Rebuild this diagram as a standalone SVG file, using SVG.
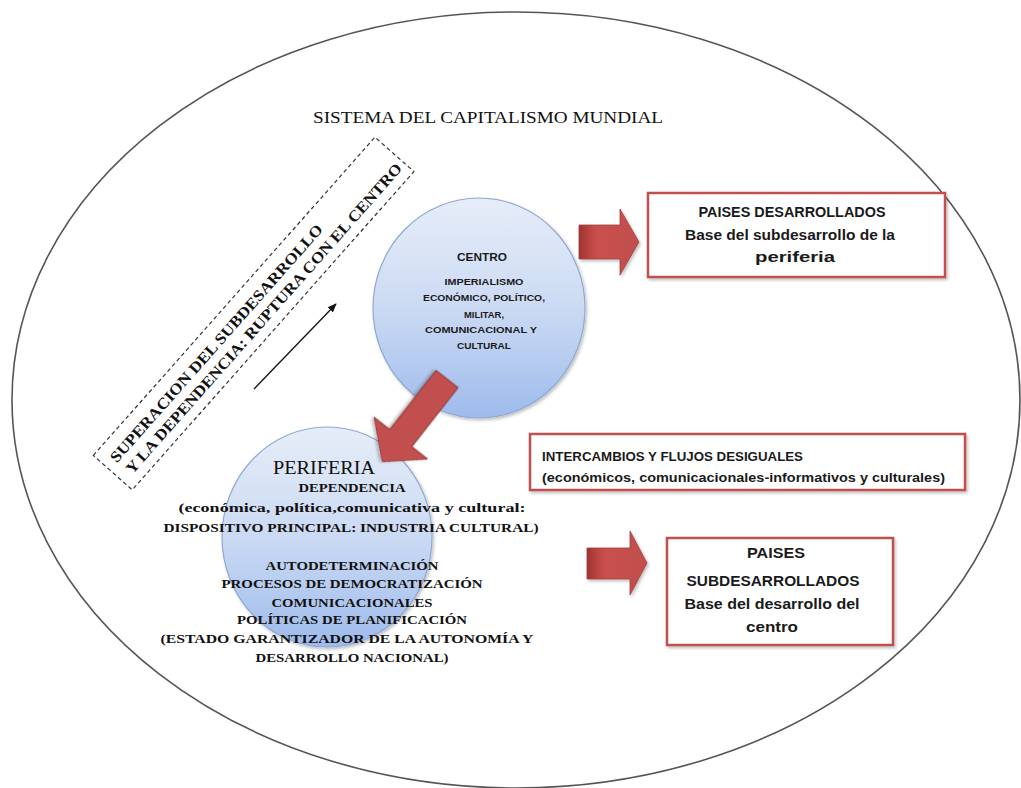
<svg xmlns="http://www.w3.org/2000/svg" width="1021" height="788" viewBox="0 0 1021 788">
<style>
.sans{font-family:"Liberation Sans","Noto Sans",Arial,sans-serif;font-weight:bold;fill:#1a1a1a;}
.serif{font-family:"Liberation Serif","Times New Roman",serif;fill:#111;}
.b{font-weight:bold;}
.redbox{fill:#fff;stroke:#c0504d;stroke-width:2.5;}
.circ{fill:url(#blue);stroke:#8ea9d4;stroke-width:1.2;}
.rarrow{fill:url(#redh);stroke:#a13f3c;stroke-width:0.8;}
</style>
<defs>
<linearGradient id="blue" x1="0" y1="0" x2="0" y2="1">
<stop offset="0" stop-color="#e6edf8"/>
<stop offset="0.5" stop-color="#cbdaf3"/>
<stop offset="1" stop-color="#9ebbec"/>
</linearGradient>
<linearGradient id="redh" x1="0" y1="0" x2="1" y2="0">
<stop offset="0" stop-color="#9c3431"/>
<stop offset="0.15" stop-color="#b8423f"/>
<stop offset="0.3" stop-color="#c9504d"/>
<stop offset="1" stop-color="#c0504d"/>
</linearGradient>
<filter id="sh" x="-10%" y="-10%" width="130%" height="130%">
<feDropShadow dx="1.5" dy="2" stdDeviation="1.5" flood-color="#000" flood-opacity="0.25"/>
</filter>
<marker id="ah" viewBox="0 0 10 10" refX="9" refY="5" markerWidth="7" markerHeight="7" orient="auto">
<path d="M0,1 L10,5 L0,9 z" fill="#111"/>
</marker>
</defs>
<rect width="1021" height="788" fill="#fff"/>

<g id="sistema">
<ellipse cx="516" cy="400" rx="504" ry="388" fill="none" stroke="#555" stroke-width="1.6"/>
<text class="serif" x="488" y="123" text-anchor="middle" font-size="17" textLength="350" lengthAdjust="spacingAndGlyphs">SISTEMA DEL CAPITALISMO MUNDIAL</text>
</g>

<g id="superacion" transform="translate(253.6,313.5) rotate(-48.5)">
<rect x="-212.5" y="-26" width="425" height="52" fill="none" stroke="#333" stroke-width="1.2" stroke-dasharray="4,3"/>
<text class="serif b" x="-203" y="-3" font-size="15.5" textLength="312" lengthAdjust="spacingAndGlyphs">SUPERACION DEL SUBDESARROLLO</text>
<text class="serif b" x="-201" y="16" font-size="15.5" textLength="408" lengthAdjust="spacingAndGlyphs">Y LA DEPENDENCIA: RUPTURA CON EL CENTRO</text>
</g>

<g id="centro">
<ellipse class="circ" cx="479" cy="308" rx="106" ry="110" filter="url(#sh)"/>
<text class="sans" x="482" y="261" text-anchor="middle" font-size="11" textLength="50" lengthAdjust="spacingAndGlyphs">CENTRO</text>
<text class="sans" x="484" y="285" text-anchor="middle" font-size="9.5" textLength="79" lengthAdjust="spacingAndGlyphs">IMPERIALISMO</text>
<text class="sans" x="484" y="301" text-anchor="middle" font-size="9.5" textLength="122" lengthAdjust="spacingAndGlyphs">ECONÓMICO, POLÍTICO,</text>
<text class="sans" x="484" y="317.5" text-anchor="middle" font-size="9.5" textLength="40" lengthAdjust="spacingAndGlyphs">MILITAR,</text>
<text class="sans" x="481" y="333" text-anchor="middle" font-size="9.5" textLength="112" lengthAdjust="spacingAndGlyphs">COMUNICACIONAL Y</text>
<text class="sans" x="484" y="349" text-anchor="middle" font-size="9.5" textLength="54" lengthAdjust="spacingAndGlyphs">CULTURAL</text>
</g>

<g id="periferia">
<ellipse class="circ" cx="327" cy="537" rx="105" ry="110" filter="url(#sh)"/>
</g>

<g id="connectors">
<path d="M0,-14 L75,-14 L75,-34 L105,0 L75,34 L75,14 L0,14 Z" transform="translate(447,379) rotate(128)" fill="#c0504d" stroke="#8f3533" stroke-width="1" filter="url(#sh)"/>
<path class="rarrow" d="M579,225 L620,225 L620,209 L639,242 L620,275 L620,259 L579,259 Z" filter="url(#sh)"/>
<path class="rarrow" d="M587,548 L630,548 L630,531 L647,563 L630,595 L630,579 L587,579 Z" filter="url(#sh)"/>
<line x1="254" y1="389" x2="336" y2="304" stroke="#111" stroke-width="1.3" marker-end="url(#ah)"/>
</g>

<g id="periferia-text">
<text class="serif" x="324" y="474" text-anchor="middle" font-size="18" textLength="102" lengthAdjust="spacingAndGlyphs">PERIFERIA</text>
<text class="serif b" x="352" y="492" text-anchor="middle" font-size="13" textLength="107" lengthAdjust="spacingAndGlyphs">DEPENDENCIA</text>
<text class="serif b" x="352" y="512" text-anchor="middle" font-size="13.5" textLength="347" lengthAdjust="spacingAndGlyphs">(económica, política,comunicativa  y cultural:</text>
<text class="serif b" x="351" y="532" text-anchor="middle" font-size="13" textLength="375" lengthAdjust="spacingAndGlyphs">DISPOSITIVO PRINCIPAL: INDUSTRIA CULTURAL)</text>
<text class="serif b" x="352" y="570" text-anchor="middle" font-size="13" textLength="173" lengthAdjust="spacingAndGlyphs">AUTODETERMINACIÓN</text>
<text class="serif b" x="352" y="588" text-anchor="middle" font-size="13" textLength="261" lengthAdjust="spacingAndGlyphs">PROCESOS DE DEMOCRATIZACIÓN</text>
<text class="serif b" x="352" y="607" text-anchor="middle" font-size="13" textLength="161" lengthAdjust="spacingAndGlyphs">COMUNICACIONALES</text>
<text class="serif b" x="352" y="624" text-anchor="middle" font-size="13" textLength="230" lengthAdjust="spacingAndGlyphs">POLÍTICAS DE PLANIFICACIÓN</text>
<text class="serif b" x="347" y="643" text-anchor="middle" font-size="13" textLength="373" lengthAdjust="spacingAndGlyphs">(ESTADO GARANTIZADOR DE LA AUTONOMÍA Y</text>
<text class="serif b" x="352" y="662" text-anchor="middle" font-size="13" textLength="193" lengthAdjust="spacingAndGlyphs">DESARROLLO NACIONAL)</text>
</g>

<g id="desarrollados">
<rect class="redbox" x="648" y="193" width="297" height="84" filter="url(#sh)"/>
<text class="sans" x="792" y="217" text-anchor="middle" font-size="14" textLength="187" lengthAdjust="spacingAndGlyphs">PAISES DESARROLLADOS</text>
<text class="sans" x="790" y="240" text-anchor="middle" font-size="14" textLength="210" lengthAdjust="spacingAndGlyphs">Base del subdesarrollo de la</text>
<text class="sans" x="795" y="262" text-anchor="middle" font-size="14" textLength="80" lengthAdjust="spacingAndGlyphs">periferia</text>
</g>

<g id="intercambios">
<rect class="redbox" x="530" y="434" width="435" height="56" filter="url(#sh)"/>
<text class="sans" x="542" y="461" font-size="13" textLength="261" lengthAdjust="spacingAndGlyphs">INTERCAMBIOS Y FLUJOS DESIGUALES</text>
<text class="sans" x="542" y="482" font-size="13" textLength="403" lengthAdjust="spacingAndGlyphs">(económicos, comunicacionales-informativos y culturales)</text>
</g>

<g id="subdesarrollados">
<rect class="redbox" x="667" y="538" width="226" height="107" filter="url(#sh)"/>
<text class="sans" x="776" y="558" text-anchor="middle" font-size="14" textLength="58" lengthAdjust="spacingAndGlyphs">PAISES</text>
<text class="sans" x="773" y="586" text-anchor="middle" font-size="14" textLength="173" lengthAdjust="spacingAndGlyphs">SUBDESARROLLADOS</text>
<text class="sans" x="772" y="609" text-anchor="middle" font-size="14" textLength="175" lengthAdjust="spacingAndGlyphs">Base del desarrollo del</text>
<text class="sans" x="772" y="632" text-anchor="middle" font-size="14" textLength="52" lengthAdjust="spacingAndGlyphs">centro</text>
</g>
</svg>
